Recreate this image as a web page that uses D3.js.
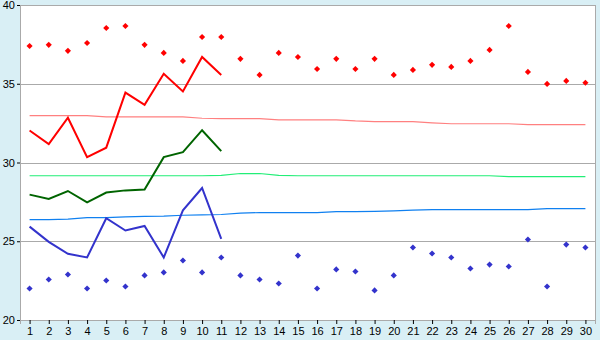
<!DOCTYPE html>
<html>
<head>
<meta charset="utf-8">
<script src="https://cdn.jsdelivr.net/npm/d3@7"></script>
<style>
  body { margin: 0; background: #d9eff5; }
  svg { display: block; }
  .tick text { font-family: "Liberation Sans", Arial, sans-serif; font-size: 11px; fill: #000; }
</style>
</head>
<body>
<script>
const width = 600, height = 340;
const margin = {top: 5, right: 5, bottom: 20, left: 20};

const days = d3.range(1, 31);

// scattered daily maxima / minima
const highs = [37.40, 37.47, 37.09, 37.59, 38.54, 38.67, 37.47, 36.96, 36.45, 37.97,
               37.97, 36.58, 35.56, 36.96, 36.70, 35.94, 36.58, 35.94, 36.58, 35.56,
               35.88, 36.20, 36.07, 36.45, 37.15, 38.67, 35.75, 34.99, 35.18, 35.06];
const lows = [22.00, 22.57, 22.89, 22.00, 22.51, 22.13, 22.83, 23.02, 23.78, 23.02,
              23.97, 22.83, 22.57, 22.32, 24.09, 22.00, 23.21, 23.08, 21.88, 22.83,
              24.60, 24.22, 23.97, 23.27, 23.52, 23.40, 25.11, 22.13, 24.79, 24.60];

// this month's observed lines (days 1-11)
const maxLine = [32.03, 31.17, 32.84, 30.34, 30.94, 34.44, 33.66, 35.63, 34.51, 36.70, 35.56];
const meanLine = [27.96, 27.68, 28.19, 27.47, 28.09, 28.23, 28.28, 30.34, 30.66, 32.05, 30.72];
const minLine = [25.93, 24.96, 24.20, 23.97, 26.46, 25.68, 25.97, 23.97, 26.96, 28.38, 25.15];

// normals
const normMax = [32.97, 32.97, 32.97, 32.97, 32.90, 32.90, 32.90, 32.90, 32.90, 32.81,
                 32.78, 32.78, 32.78, 32.71, 32.71, 32.71, 32.71, 32.64, 32.60, 32.59,
                 32.59, 32.52, 32.46, 32.46, 32.46, 32.46, 32.40, 32.40, 32.40, 32.40];
const normMean = [29.16, 29.16, 29.16, 29.16, 29.16, 29.16, 29.16, 29.16, 29.16, 29.16,
                  29.18, 29.30, 29.30, 29.18, 29.16, 29.16, 29.16, 29.16, 29.16, 29.16,
                  29.16, 29.16, 29.16, 29.16, 29.16, 29.10, 29.10, 29.10, 29.10, 29.10];
const normMin = [26.37, 26.37, 26.40, 26.50, 26.50, 26.55, 26.58, 26.60, 26.65, 26.68,
                 26.70, 26.78, 26.82, 26.82, 26.82, 26.82, 26.88, 26.88, 26.90, 26.93,
                 26.97, 27.01, 27.01, 27.01, 27.01, 27.01, 27.01, 27.07, 27.07, 27.07];

const yTicks = [20, 25, 30, 35, 40];

const svg = d3.select("body").append("svg")
  .attr("width", width)
  .attr("height", height);

const x = d3.scalePoint()
  .domain(days)
  .range([margin.left, width - margin.right])
  .padding(0.5);

const y = d3.scaleLinear()
  .domain([20, 40])
  .range([height - margin.bottom, margin.top]);

// plot background
svg.append("rect")
  .attr("x", margin.left)
  .attr("y", margin.top)
  .attr("width", width - margin.left - margin.right)
  .attr("height", height - margin.top - margin.bottom)
  .attr("fill", "#fff")
  .attr("stroke", "#aaa")
  .attr("shape-rendering", "crispEdges");

// grid
svg.append("g")
  .selectAll("line")
  .data(yTicks.slice(1, -1))
  .enter().append("line")
  .attr("x1", margin.left)
  .attr("x2", width - margin.right)
  .attr("y1", d => Math.round(y(d)) + 0.5)
  .attr("y2", d => Math.round(y(d)) + 0.5)
  .attr("stroke", "#aaa");

// axes
const yAxis = svg.append("g")
  .attr("transform", `translate(${margin.left},0)`)
  .call(d3.axisLeft(y).tickValues(yTicks).tickSize(3).tickPadding(2));
const xAxis = svg.append("g")
  .attr("transform", `translate(0,${height - margin.bottom})`)
  .call(d3.axisBottom(x).tickSize(4).tickPadding(3));

[yAxis, xAxis].forEach(g => {
  g.select(".domain").attr("stroke", "#aaa");
  g.selectAll(".tick line").attr("stroke", "#000");
});

const line = d3.line()
  .x((d, i) => x(days[i]))
  .y(d => y(d));

// normal lines
[[normMax, "#ff8080"], [normMean, "#22ee77"], [normMin, "#1080f0"]].forEach(([s, c]) => {
  svg.append("path")
    .datum(s)
    .attr("d", line)
    .attr("fill", "none")
    .attr("stroke", c)
    .attr("stroke-width", 1.2);
});

// observed lines
[[maxLine, "#ff0000"], [meanLine, "#006400"], [minLine, "#3333cc"]].forEach(([s, c]) => {
  svg.append("path")
    .datum(s)
    .attr("d", line)
    .attr("fill", "none")
    .attr("stroke", c)
    .attr("stroke-width", 2);
});

// diamonds
const sym = d3.symbol().type(d3.symbolDiamond2).size(24);
[[highs, "#ff0000"], [lows, "#3333cc"]].forEach(([s, c]) => {
  svg.append("g")
    .selectAll("path")
    .data(s)
    .enter().append("path")
    .attr("d", sym)
    .attr("transform", (d, i) => `translate(${x(days[i])},${y(d)})`)
    .attr("fill", c);
});
</script>
</body>
</html>
